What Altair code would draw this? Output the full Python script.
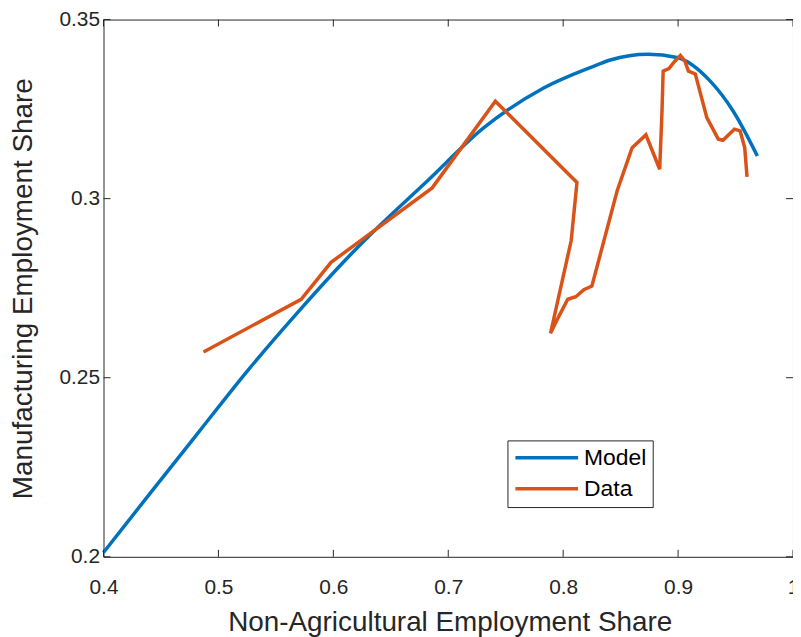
import altair as alt
import pandas as pd

# Model curve
model_x = [0.400, 0.440, 0.483, 0.526, 0.570, 0.613, 0.633, 0.682, 0.731, 0.783,
           0.830, 0.841, 0.874, 0.899, 0.928, 0.948, 0.969]
model_y = [0.2012, 0.2175, 0.2349, 0.2522, 0.2686, 0.2837, 0.2902, 0.3050, 0.3198, 0.3309,
           0.3374, 0.3387, 0.3403, 0.3394, 0.3328, 0.3244, 0.3119]

# Data series (in drawing order)
data_x = [0.487, 0.572, 0.598, 0.686, 0.741, 0.812, 0.807, 0.789, 0.796, 0.804,
          0.811, 0.818, 0.825, 0.847, 0.860, 0.872, 0.884, 0.886, 0.887, 0.892,
          0.897, 0.902, 0.906, 0.909, 0.915, 0.925, 0.935, 0.939, 0.949, 0.954,
          0.958, 0.960]
data_y = [0.2572, 0.2719, 0.2822, 0.3030, 0.3272, 0.3045, 0.2883, 0.2624, 0.2670, 0.2719,
          0.2726, 0.2746, 0.2756, 0.3022, 0.3142, 0.3178, 0.3082, 0.3244, 0.3356, 0.3363,
          0.3383, 0.3400, 0.3383, 0.3356, 0.3348, 0.3226, 0.3166, 0.3163, 0.3194, 0.3189,
          0.3142, 0.3061]

x_ticks = [0.4, 0.5, 0.6, 0.7, 0.8, 0.9, 1.0]
y_ticks = [0.2, 0.25, 0.3, 0.35]

series_names = ["Model", "Data"]
series_colors = ["#0072BD", "#D95319"]

W, H = 693, 540
TICK = 7
FONT = "Liberation Sans"

model_df = pd.DataFrame({"x": model_x, "y": model_y, "series": "Model",
                         "i": range(len(model_x))})
data_df = pd.DataFrame({"x": data_x, "y": data_y, "series": "Data",
                        "i": range(len(data_x))})
xt_df = pd.DataFrame({"x": x_ticks})
yt_df = pd.DataFrame({"y": y_ticks})

xscale = alt.Scale(domain=[0.4, 1.0], nice=False, zero=False)
yscale = alt.Scale(domain=[0.2, 0.35], nice=False, zero=False)
cscale = alt.Scale(domain=series_names, range=series_colors)

x_axis = alt.Axis(values=x_ticks, format="~g", grid=False, domain=False, ticks=False,
                  tickSize=0, labelPadding=37, labelBaseline="alphabetic",
                  labelFlush=False, labelOverlap=False, labelBound=False,
                  title="Non-Agricultural Employment Share",
                  titleX=348, titleY=74, titleBaseline="alphabetic", titleAlign="center")
y_axis = alt.Axis(values=y_ticks, format="~g", grid=False, domain=False, ticks=False,
                  tickSize=0, labelPadding=4, labelFlush=False, labelOverlap=False,
                  labelBound=False,
                  title="Manufacturing Employment Share",
                  titleX=-72, titleY=270, titleAngle=270, titleBaseline="alphabetic",
                  titleAlign="center")

# wide stroke symbol: path scaled by sqrt(size)/2 -> length = 8*r
SYM_SIZE = 248
legend = alt.Legend(title=None, orient="none", legendX=406, legendY=423,
                    symbolType="M-4,0H4", symbolSize=SYM_SIZE, symbolStrokeWidth=3.5,
                    symbolOffset=22, labelOffset=26,
                    labelFontSize=23, labelFont=FONT, labelColor="#000000",
                    strokeColor="#262626", fillColor="#ffffff", padding=6,
                    rowPadding=7)

model_line = alt.Chart(model_df).mark_line(strokeWidth=3.5, interpolate="monotone").encode(
    x=alt.X("x:Q", scale=xscale, axis=x_axis),
    y=alt.Y("y:Q", scale=yscale, axis=y_axis),
    color=alt.Color("series:N", scale=cscale, legend=legend, sort=series_names),
    order="i:Q",
)
data_line = alt.Chart(data_df).mark_line(strokeWidth=3.5, strokeJoin="miter").encode(
    x=alt.X("x:Q", scale=xscale, axis=x_axis),
    y=alt.Y("y:Q", scale=yscale, axis=y_axis),
    color=alt.Color("series:N", scale=cscale, legend=legend, sort=series_names),
    order="i:Q",
)

tick_color = "#262626"
xt_bottom = alt.Chart(xt_df).mark_rule(color=tick_color, strokeWidth=1).encode(
    x=alt.X("x:Q", scale=xscale, axis=x_axis), y=alt.value(H), y2=alt.value(H - TICK))
xt_top = alt.Chart(xt_df).mark_rule(color=tick_color, strokeWidth=1).encode(
    x=alt.X("x:Q", scale=xscale, axis=x_axis), y=alt.value(0), y2=alt.value(TICK))
yt_left = alt.Chart(yt_df).mark_rule(color=tick_color, strokeWidth=1).encode(
    y=alt.Y("y:Q", scale=yscale, axis=y_axis), x=alt.value(0), x2=alt.value(TICK))
yt_right = alt.Chart(yt_df).mark_rule(color=tick_color, strokeWidth=1).encode(
    y=alt.Y("y:Q", scale=yscale, axis=y_axis), x=alt.value(W), x2=alt.value(W - TICK))

chart = alt.layer(model_line, data_line, xt_bottom, xt_top, yt_left, yt_right).properties(
    width=W, height=H,
    autosize=alt.AutoSizeParams(type="none"),
    padding={"left": 96, "top": 10, "right": 0, "bottom": 79},
).configure_view(
    stroke=tick_color, strokeWidth=1
).configure_axis(
    labelFont=FONT, labelFontSize=21, labelColor="#262626",
    titleFont=FONT, titleFontSize=28, titleColor="#262626", titleFontWeight="normal",
).configure_legend(
    labelFont=FONT
)

chart.save("out.html", embed_options={"renderer": "svg", "actions": False})
